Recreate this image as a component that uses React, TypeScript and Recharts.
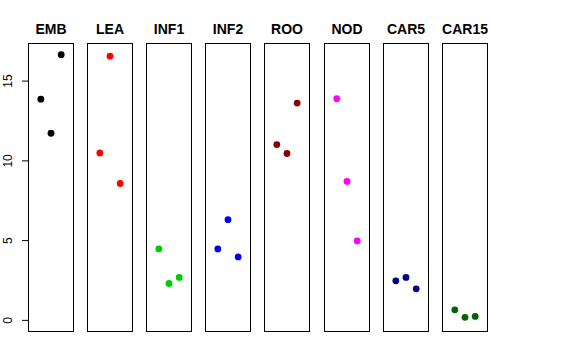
import React from "react";
import { ScatterChart, Scatter, XAxis, YAxis } from "recharts";

const categories = ["EMB", "LEA", "INF1", "INF2", "ROO", "NOD", "CAR5", "CAR15"];
const colors = ["#000000", "#FF0000", "#00CD00", "#0000FF", "#8B0000", "#FF00FF", "#00008B", "#006400"];
const positions = [1, 2, 3];

const EMB = [13.87, 11.73, 16.66];
const LEA = [10.5, 16.56, 8.58];
const INF1 = [4.48, 2.31, 2.69];
const INF2 = [4.48, 6.31, 3.98];
const ROO = [11.02, 10.46, 13.62];
const NOD = [13.9, 8.71, 4.98];
const CAR5 = [2.48, 2.69, 1.98];
const CAR15 = [0.66, 0.19, 0.25];

const yTicks = [0, 5, 10, 15];

const seriesValues = [EMB, LEA, INF1, INF2, ROO, NOD, CAR5, CAR15];

const allValues = seriesValues.flat();
const yLo = 0;
const yHi = Math.max(...allValues);
const yExt = 0.04 * (yHi - yLo);
const yDomain = [yLo - yExt, yHi + yExt];
const xExt = 0.04 * 4;
const xDomain = [0 - xExt, 4 + xExt];

const PANEL_LEFT0 = 29;
const PANEL_STEP = 59.1;
const PANEL_W = 44;
const PANEL_TOP = 44;
const PANEL_H = 287;
const YAXIS_W = 29;

const Dot = (props: any) => {
  const { cx, cy, fill } = props;
  if (cx == null || cy == null) return null;
  return <circle cx={cx} cy={cy} r={3.4} fill={fill} />;
};

const YTick = (props: any) => {
  const { y, payload } = props;
  const tx = 12.5;
  return (
    <text
      x={tx}
      y={y}
      transform={`rotate(-90, ${tx}, ${y})`}
      textAnchor="middle"
      fontSize={12}
      fontFamily="Liberation Sans, Arial, sans-serif"
      fill="#000"
    >
      {payload.value}
    </text>
  );
};

export default function App() {
  return (
    <div
      style={{
        position: "absolute",
        left: 0,
        top: 0,
        width: 576,
        height: 360,
        background: "#fff",
        overflow: "hidden",
      }}
    >
      {categories.map((cat, i) => {
        const left = Math.round(PANEL_LEFT0 + PANEL_STEP * i);
        const data = positions.map((p, j) => ({ x: p, y: seriesValues[i][j] }));
        const first = i === 0;
        return (
          <React.Fragment key={cat}>
            <div
              style={{
                position: "absolute",
                left: left - 1,
                top: PANEL_TOP - 1,
                width: PANEL_W,
                height: PANEL_H,
                border: "1px solid #000",
              }}
            />
            <div
              style={{
                position: "absolute",
                left: first ? left - YAXIS_W : left,
                top: PANEL_TOP,
              }}
            >
              <ScatterChart
                width={first ? PANEL_W + YAXIS_W : PANEL_W}
                height={PANEL_H}
                margin={{ top: 0, right: 0, bottom: 0, left: 0 }}
              >
                <XAxis type="number" dataKey="x" domain={xDomain} hide allowDataOverflow />
                <YAxis
                  type="number"
                  dataKey="y"
                  domain={yDomain}
                  ticks={yTicks}
                  hide={!first}
                  width={YAXIS_W}
                  axisLine={false}
                  tickSize={7}
                  tickLine={{ stroke: "#000" }}
                  tick={<YTick />}
                  allowDataOverflow
                  interval={0}
                />
                <Scatter data={data} fill={colors[i]} shape={<Dot />} isAnimationActive={false} />
              </ScatterChart>
            </div>
          </React.Fragment>
        );
      })}
      <svg
        width={576}
        height={360}
        style={{ position: "absolute", left: 0, top: 0, pointerEvents: "none" }}
      >
        {categories.map((cat, i) => {
          const left = Math.round(PANEL_LEFT0 + PANEL_STEP * i);
          return (
            <text
              key={cat}
              x={left + PANEL_W / 2}
              y={34}
              textAnchor="middle"
              fontSize={14}
              fontWeight="bold"
              fontFamily="Liberation Sans, Arial, sans-serif"
              fill="#000"
            >
              {cat}
            </text>
          );
        })}
      </svg>
    </div>
  );
}
